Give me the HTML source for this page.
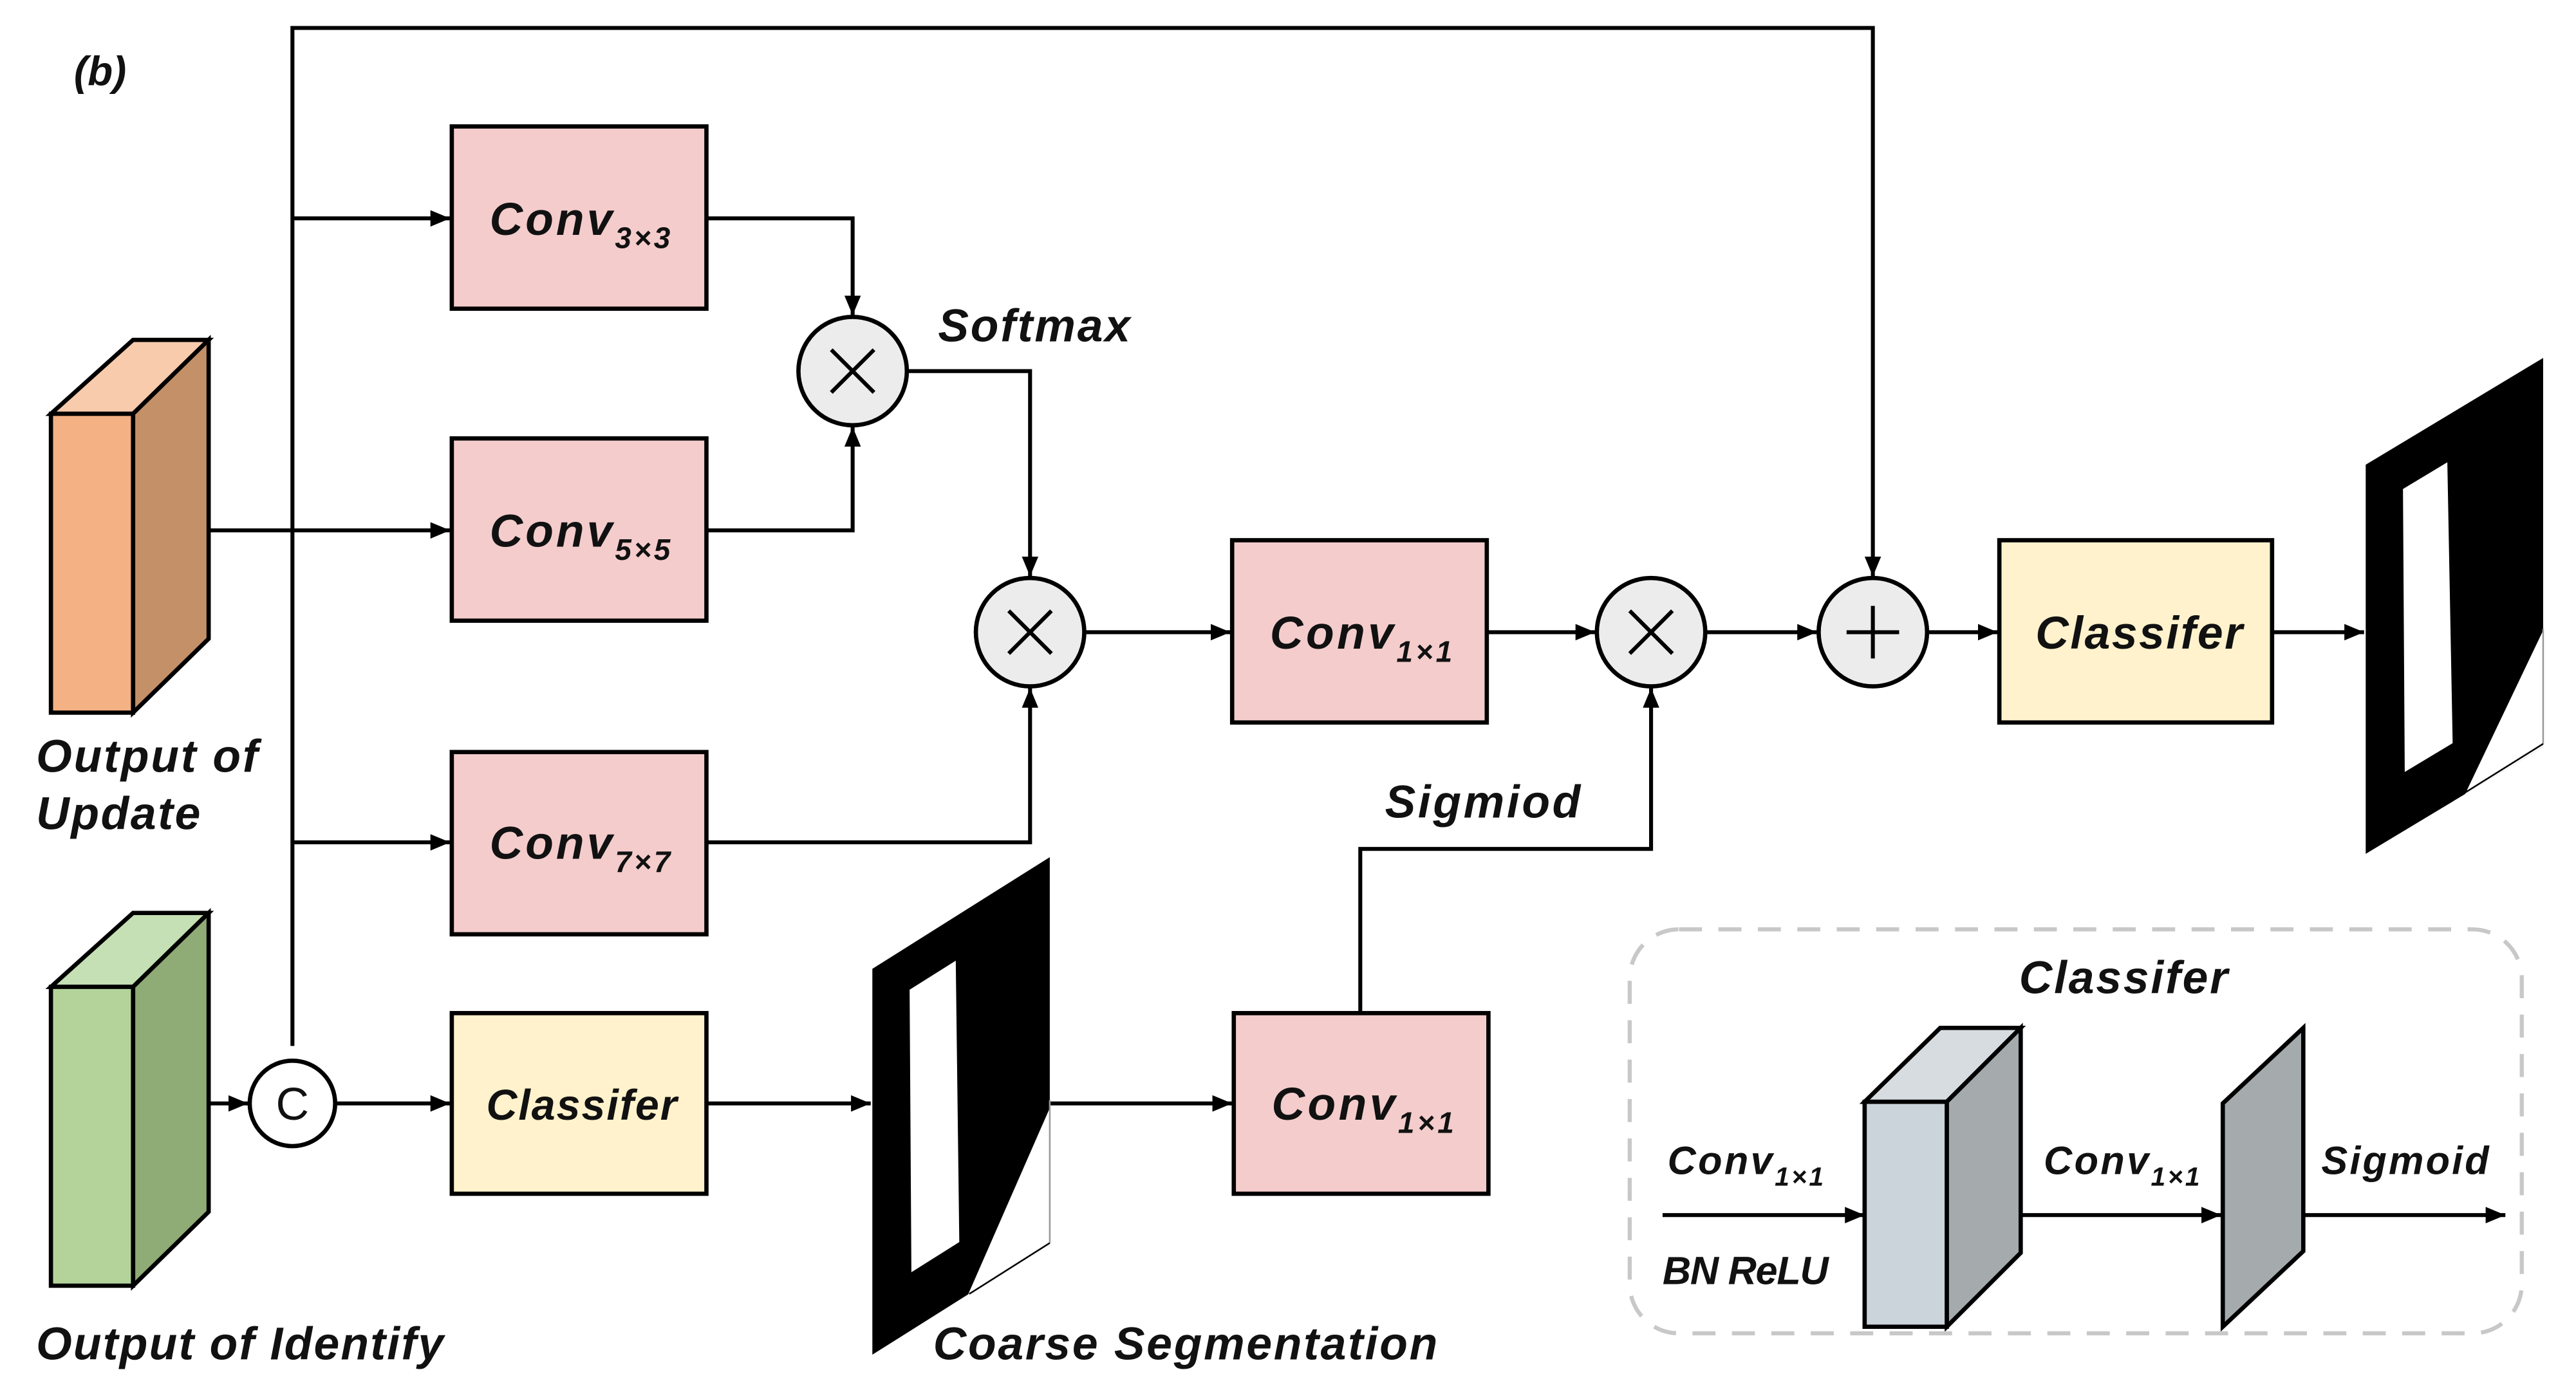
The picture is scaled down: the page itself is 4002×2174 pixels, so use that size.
<!DOCTYPE html>
<html><head><meta charset="utf-8"><style>
html,body{margin:0;padding:0;background:#fff;}
svg{display:block;}
text{font-family:"Liberation Sans",Arial,sans-serif;font-weight:bold;font-style:italic;fill:#111;}
</style></head><body>
<svg width="4002" height="2174" viewBox="0 0 1568 852" preserveAspectRatio="none" xmlns="http://www.w3.org/2000/svg">
<defs>
<marker id="a" markerWidth="12" markerHeight="10" refX="12" refY="5" orient="auto" markerUnits="userSpaceOnUse">
<path d="M0,0 L12,5 L0,10 Z" fill="#000"/></marker>
</defs>
<g stroke="#000" stroke-width="2.4" fill="none">
<polyline points="178,637 178,17 1140,17 1140,351" marker-end="url(#a)"/>
<line x1="178" y1="133" x2="274" y2="133" marker-end="url(#a)"/>
<line x1="127" y1="323" x2="274" y2="323" marker-end="url(#a)"/>
<line x1="178" y1="513" x2="274" y2="513" marker-end="url(#a)"/>
<polyline points="430,133 519,133 519,192" marker-end="url(#a)"/>
<polyline points="430,323 519,323 519,260" marker-end="url(#a)"/>
<polyline points="552,226 627,226 627,351" marker-end="url(#a)"/>
<polyline points="430,513 627,513 627,419" marker-end="url(#a)"/>
<line x1="660" y1="385" x2="749" y2="385" marker-end="url(#a)"/>
<line x1="905" y1="385" x2="971" y2="385" marker-end="url(#a)"/>
<line x1="1038" y1="385" x2="1106" y2="385" marker-end="url(#a)"/>
<line x1="1173" y1="385" x2="1216" y2="385" marker-end="url(#a)"/>
<line x1="1383" y1="385" x2="1439" y2="385" marker-end="url(#a)"/>
<line x1="127" y1="672" x2="151" y2="672" marker-end="url(#a)"/>
<line x1="204" y1="672" x2="274" y2="672" marker-end="url(#a)"/>
<line x1="430" y1="672" x2="530" y2="672" marker-end="url(#a)"/>
<line x1="639" y1="672" x2="750" y2="672" marker-end="url(#a)"/>
<polyline points="828,617 828,517 1005,517 1005,419" marker-end="url(#a)"/>
<line x1="1012" y1="740" x2="1135" y2="740" marker-end="url(#a)"/>
<line x1="1230" y1="740" x2="1352" y2="740" marker-end="url(#a)"/>
<line x1="1402" y1="740" x2="1525" y2="740" marker-end="url(#a)"/>
</g>
<g stroke="#000" stroke-width="2.6">
<rect x="275" y="77" width="155" height="111" fill="#f4cccc"/>
<rect x="275" y="267" width="155" height="111" fill="#f4cccc"/>
<rect x="275" y="458" width="155" height="111" fill="#f4cccc"/>
<rect x="275" y="617" width="155" height="110" fill="#fff2cc"/>
<rect x="750" y="329" width="155" height="111" fill="#f4cccc"/>
<rect x="751" y="617" width="155" height="110" fill="#f4cccc"/>
<rect x="1217" y="329" width="166" height="111" fill="#fff2cc"/>
<circle cx="519" cy="226" r="33" fill="#ececec"/>
<circle cx="627" cy="385" r="33" fill="#ececec"/>
<circle cx="1005" cy="385" r="33" fill="#ececec"/>
<circle cx="1140" cy="385" r="33" fill="#ececec"/>
<circle cx="178" cy="672" r="26" fill="#fff"/>
<polygon points="31,252 81,207 127,207 81,252" fill="#f8cbad"/>
<polygon points="81,252 127,207 127,389 81,434" fill="#c49068"/>
<rect x="31" y="252" width="50" height="182" fill="#f4b183"/>
<polygon points="31,601 81,556 127,556 81,601" fill="#c5e0b4"/>
<polygon points="81,601 127,556 127,738 81,783" fill="#8fab76"/>
<rect x="31" y="601" width="50" height="182" fill="#b3d39b"/>
<polygon points="1135,671 1181,626 1230,626 1185,671" fill="#d6dce0"/>
<polygon points="1185,671 1230,626 1230,763 1185,808" fill="#a5aaad"/>
<rect x="1135" y="671" width="50" height="137" fill="#cbd3db"/>
<polygon points="1353,672 1402,626 1402,762 1353,808" fill="#a5aaad"/>
</g>
<g stroke="#000" stroke-width="2.4">
<path d="M506,213 L532,239 M532,213 L506,239"/>
<path d="M614,372 L640,398 M640,372 L614,398"/>
<path d="M992,372 L1018,398 M1018,372 L992,398"/>
<path d="M1140,369 L1140,401 M1124,385 L1156,385"/>
</g>
<text x="178" y="682" text-anchor="middle" style="font-style:normal;font-weight:normal;font-size:28px">C</text>
<rect x="992" y="566" width="543" height="246" rx="30" fill="none" stroke="#c8c8c8" stroke-width="2.5" stroke-dasharray="14,10"/>
<g transform="matrix(108,-65,0,237,1440,283)">
<polygon points="0,0 1,0 1,1 0,1" fill="#000"/>
<polygon points="0.21,0.12 0.46,0.12 0.49,0.85 0.22,0.85" fill="#fff"/>
<polygon points="1,0.70 1,1 0.56,1" fill="#fff"/>
</g>
<g transform="matrix(108,-68,0,235,531,590)">
<polygon points="0,0 1,0 1,1 0,1" fill="#000"/>
<polygon points="0.21,0.115 0.47,0.115 0.49,0.85 0.22,0.85" fill="#fff"/>
<polygon points="1,0.65 1,1 0.54,1" fill="#fff"/>
</g>
<line x1="1548" y1="383" x2="1548" y2="453" stroke="#999" stroke-width="1"/>
<line x1="1500" y1="483" x2="1548" y2="453" stroke="#000" stroke-width="1"/>
<line x1="639" y1="670" x2="639" y2="757" stroke="#999" stroke-width="1"/>
<line x1="590" y1="788" x2="639" y2="757" stroke="#000" stroke-width="1"/>
<text x="45" y="52" font-size="25">(b)</text>
<g font-size="28">
<text x="298" y="143" textLength="110">Conv<tspan font-size="18" dy="8">3×3</tspan></text>
<text x="298" y="333" textLength="110">Conv<tspan font-size="18" dy="8">5×5</tspan></text>
<text x="298" y="523" textLength="110">Conv<tspan font-size="18" dy="8">7×7</tspan></text>
<text x="773" y="395" textLength="111">Conv<tspan font-size="18" dy="8">1×1</tspan></text>
<text x="774" y="682" textLength="111">Conv<tspan font-size="18" dy="8">1×1</tspan></text>
<text x="296" y="682" font-size="26" textLength="116">Classifer</text>
<text x="1239" y="395" textLength="126">Classifer</text>
<text x="571" y="208" textLength="117">Softmax</text>
<text x="843" y="498" textLength="119">Sigmiod</text>
<text x="22" y="470" textLength="135">Output of</text>
<text x="22" y="505" textLength="100">Update</text>
<text x="22" y="828" textLength="248">Output of Identify</text>
<text x="568" y="828" textLength="307">Coarse Segmentation</text>
<text x="1229" y="605" textLength="127">Classifer</text>
</g>
<g font-size="24">
<text x="1015" y="715" textLength="95">Conv<tspan font-size="16" dy="7">1×1</tspan></text>
<text x="1244" y="715" textLength="95">Conv<tspan font-size="16" dy="7">1×1</tspan></text>
<text x="1413" y="715" textLength="102">Sigmoid</text>
<text x="1012" y="782" textLength="101">BN ReLU</text>
</g>
</svg>
</body></html>
